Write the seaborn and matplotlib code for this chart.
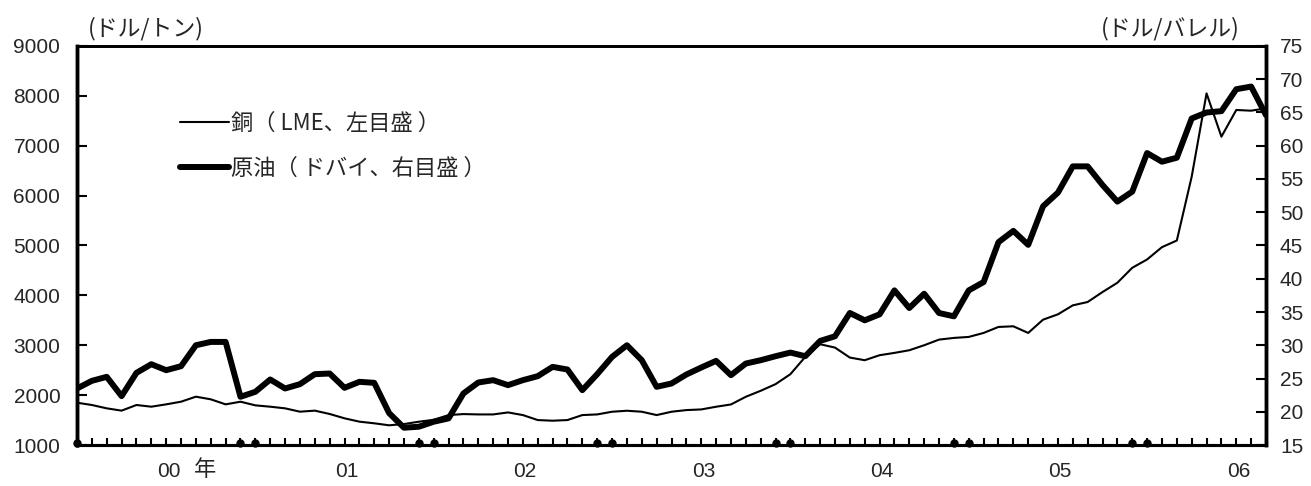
import numpy as np
import pandas as pd
import seaborn as sns
import matplotlib
matplotlib.use("Agg")
import matplotlib.pyplot as plt
from matplotlib.lines import Line2D

# ---- data (monthly, Jan 2000 - Sep 2006) ----
copper = [1848, 1802, 1735, 1689, 1802, 1768, 1815, 1868, 1969, 1916, 1815, 1868,
          1795, 1768, 1735, 1668, 1689, 1622, 1535, 1468, 1435, 1395, 1420, 1467,
          1505, 1600, 1620, 1613, 1613, 1653, 1600, 1500, 1487, 1500, 1600, 1613,
          1667, 1687, 1667, 1600, 1667, 1700, 1713, 1767, 1813, 1967, 2087, 2220,
          2420, 2767, 3020, 2953, 2753, 2700, 2800, 2847, 2900, 3000, 3113, 3147,
          3167, 3247, 3367, 3380, 3247, 3513, 3620, 3800, 3867, 4067, 4253, 4553,
          4720, 4967, 5100, 6380, 8050, 7182, 7717, 7703, 7750]
oil = [23.5, 24.65, 25.25, 22.35, 25.85, 27.15, 26.25, 26.85, 30.0, 30.5, 30.5, 22.25,
       23.0, 24.85, 23.5, 24.15, 25.65, 25.75, 23.6, 24.5, 24.35, 19.8, 17.6, 17.75,
       18.5, 19.0, 22.75, 24.4, 24.75, 24.0, 24.75, 25.35, 26.75, 26.35, 23.25, 25.65,
       28.25, 30.0, 27.75, 23.75, 24.25, 25.6, 26.65, 27.65, 25.5, 27.25, 27.75, 28.35,
       28.9, 28.35, 30.65, 31.35, 34.85, 33.75, 34.65, 38.25, 35.6, 37.75, 34.85, 34.35,
       38.25, 39.5, 45.5, 47.2, 45.1, 50.9, 52.95, 56.9, 56.9, 54.1, 51.6, 53.1,
       58.9, 57.6, 58.2, 64.1, 65.0, 65.2, 68.5, 68.9, 64.6]
year_labels = ["00", "01", "02", "03", "04", "05", "06"]
left_ticks = [1000, 2000, 3000, 4000, 5000, 6000, 7000, 8000, 9000]
right_ticks = [15, 20, 25, 30, 35, 40, 45, 50, 55, 60, 65, 70, 75]
label_copper = "銅（ LME、左目盛 ）"
label_oil = "原油（ ドバイ、右目盛 ）"

month = np.arange(len(copper))
df = pd.DataFrame({"month": month, "copper": copper, "oil": oil})

sns.set_style("white")
plt.rcParams["font.family"] = ["Liberation Sans", "Noto Sans CJK JP", "DejaVu Sans"]
fs = 15

fig = plt.figure(figsize=(13.11, 4.86), dpi=100)
ax = fig.add_axes([77 / 1311, 1 - 445 / 486, (1266 - 77) / 1311, (445 - 46) / 486])
ax2 = ax.twinx()

sns.lineplot(data=df, x="month", y="copper", ax=ax, color="black", linewidth=1.5,
             legend=False)
sns.lineplot(data=df, x="month", y="oil", ax=ax2, color="black", linewidth=4.3,
             legend=False)

ax.set_xlim(0, len(copper) - 1)
ax.set_ylim(1000, 9000)
ax2.set_ylim(15, 75)
ax.set_yticks(left_ticks)
ax2.set_yticks(right_ticks)
ax.set_xlabel("")
ax.set_ylabel("")
ax2.set_ylabel("")

# monthly ticks, inward
ax.set_xticks(month)
ax.set_xticklabels([])
ax.tick_params(axis="x", direction="in", length=5, width=1.5, color="black", bottom=True)
ax.tick_params(axis="y", direction="in", length=7, width=1.5, color="black", left=True,
               labelsize=fs, pad=12)
ax2.tick_params(axis="y", direction="in", length=7, width=1.5, color="black", right=True,
                labelsize=fs, pad=10)

for a in (ax, ax2):
    for s in a.spines.values():
        s.set_color("black")
    a.spines["left"].set_linewidth(2.5)
    a.spines["right"].set_linewidth(2.5)
    a.spines["top"].set_linewidth(2)
    a.spines["bottom"].set_linewidth(2.2)

# year-boundary marks (Dec/Jan)
marks = [m for m in month if m % 12 in (0, 11)]
ax.plot(marks, [0.006] * len(marks), linestyle="none", marker="o", markersize=5,
        color="black", transform=ax.get_xaxis_transform(), clip_on=False)

# year labels (July of each year)
for k, lab in enumerate(year_labels):
    ax.text(12 * k + 6.15, -0.042, lab, transform=ax.get_xaxis_transform(),
            ha="center", va="top", fontsize=fs)
ax.text(8.6, -0.033, "年", transform=ax.get_xaxis_transform(), ha="center", va="top",
        fontsize=16, family=["Noto Sans CJK JP"])

# unit labels
fig.text(88 / 1311, 1 - 29 / 486, "(ドル/トン)", ha="left", va="center", fontsize=16.5,
         family=["Noto Sans CJK JP"])
fig.text(1240 / 1311, 1 - 29 / 486, "(ドル/バレル)", ha="right", va="center",
         fontsize=16.5, family=["Noto Sans CJK JP"])

handles = [Line2D([], [], color="black", linewidth=1.5),
           Line2D([], [], color="black", linewidth=4.3)]
leg = ax2.legend(handles, [label_copper, label_oil], loc="upper left",
                 bbox_to_anchor=((180 - 77) / 1189, 0.835), frameon=False,
                 borderpad=0, borderaxespad=0, handlelength=2.2, handletextpad=0.1,
                 labelspacing=1.0, prop={"family": "Noto Sans CJK JP", "size": 16})

fig.savefig("out.png", dpi=100)
